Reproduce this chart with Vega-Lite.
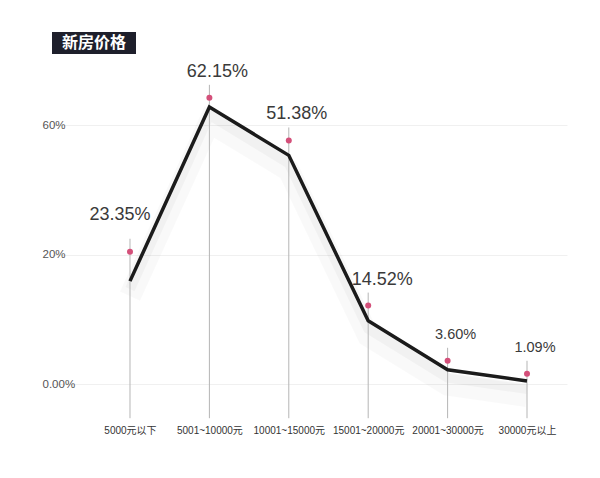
{
  "$schema": "https://vega.github.io/schema/vega-lite/v6.json",
  "background": "white",
  "padding": {"left": 42, "top": 32, "right": 0, "bottom": 0},
  "spacing": 6,
  "config": {"view": {"stroke": null}, "font": "Liberation Sans, Noto Sans CJK SC"},
  "datasets": {
    "shares": [
      {"range": "5000元以下", "share": 23.35, "dot": 29.9, "label": "23.35%"},
      {"range": "5001~10000元", "share": 62.15, "dot": 64.2, "label": "62.15%"},
      {"range": "10001~15000元", "share": 51.38, "dot": 54.7, "label": "51.38%"},
      {"range": "15001~20000元", "share": 14.52, "dot": 17.9, "label": "14.52%"},
      {"range": "20001~30000元", "share": 3.60, "dot": 5.6, "label": "3.60%"},
      {"range": "30000元以上", "share": 1.09, "dot": 2.7, "label": "1.09%"}
    ],
    "badge": [{"title": "新房价格"}]
  },
  "vconcat": [
    {
      "width": 84,
      "height": 22,
      "view": {"fill": "#1e1f2b", "stroke": null},
      "data": {"name": "badge"},
      "mark": {"type": "text", "color": "white", "fontSize": 16, "fontWeight": "bold", "font": "Noto Sans CJK SC"},
      "encoding": {"text": {"field": "title"}}
    },
    {
      "width": 515,
      "height": 340,
      "data": {"name": "shares"},
      "encoding": {
        "x": {
          "field": "range", "type": "ordinal", "sort": null,
          "scale": {"type": "point", "padding": 0.743, "align": 0.661},
          "axis": {"title": null, "domain": false, "ticks": false, "tickSize": 0, "labelAngle": 0,
                   "labelPadding": 25, "labelFontSize": 10, "labelColor": "#333",
                   "labelFont": "Liberation Sans, Noto Sans CJK SC"}
        }
      },
      "layer": [
        {
          "mark": {"type": "line", "color": "#000", "opacity": 0.022, "strokeWidth": 22, "yOffset": 15},
          "encoding": {
            "y": {
              "field": "share", "type": "quantitative",
              "scale": {"domain": [-3.14, 72.63], "nice": false, "zero": false},
              "axis": {"title": null, "values": [0.4, 29.2, 58.1],
                       "labelExpr": "datum.value > 50 ? '60%' : datum.value > 10 ? '20%' : '0.00%'",
                       "domain": false, "ticks": false, "tickSize": 0, "labelAlign": "left",
                       "labelPadding": 10, "gridColor": "#f0f0f0", "labelColor": "#555",
                       "labelFontSize": 11.5, "labelFont": "Liberation Sans"}
            }
          }
        },
        {
          "mark": {"type": "line", "color": "#000", "opacity": 0.03, "strokeWidth": 10, "yOffset": 8},
          "encoding": {"y": {"field": "share", "type": "quantitative"}}
        },
        {
          "mark": {"type": "rule", "color": "#b5b5b5", "strokeWidth": 1, "yOffset": -13},
          "encoding": {"y": {"field": "dot", "type": "quantitative"}, "y2": {"datum": -7.2}}
        },
        {
          "mark": {"type": "line", "color": "#1b1b1b", "strokeWidth": 3.5},
          "encoding": {"y": {"field": "share", "type": "quantitative"}}
        },
        {
          "mark": {"type": "point", "filled": true, "color": "#d4507a", "opacity": 1, "size": 36},
          "encoding": {"y": {"field": "dot", "type": "quantitative"}}
        },
        {
          "mark": {"type": "text", "color": "#3a3a3a", "font": "Liberation Sans",
                   "dx": {"expr": "datum.share > 20 && datum.share < 30 ? -10 : datum.share > 10 && datum.share < 20 ? 14 : 8"},
                   "dy": {"expr": "datum.share > 20 && datum.share < 30 ? -37 : -26"}},
          "encoding": {
            "y": {"field": "dot", "type": "quantitative"},
            "text": {"field": "label"},
            "size": {"condition": {"test": "datum.share > 10", "value": 18}, "value": 14.5}
          }
        }
      ]
    }
  ]
}
